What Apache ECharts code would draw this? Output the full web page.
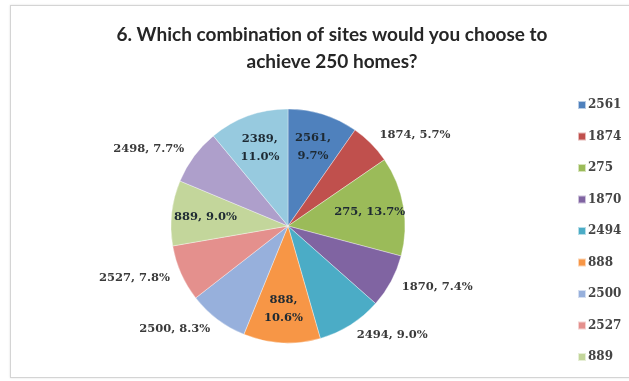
<!DOCTYPE html>
<html>
<head>
<meta charset="utf-8">
<script src="https://cdn.jsdelivr.net/npm/echarts@6/dist/echarts.min.js"></script>
<style>
  html, body { margin: 0; padding: 0; background: #ffffff; }
  #wrap { position: relative; width: 629px; height: 381px; overflow: hidden; }
  #frame {
    position: absolute; left: 10px; top: 5px; width: 660px; height: 371px;
    border: 1px solid #d4d4d4; box-shadow: 0 0 2px rgba(0,0,0,0.12);
  }
  #chart { position: absolute; left: 0; top: 0; width: 629px; height: 381px; }
</style>
</head>
<body>
<div id="wrap">
  <div id="frame"></div>
  <div id="chart"></div>
</div>
<script>
// Survey answers: share of respondents choosing each site
const sites = ['2561', '1874', '275', '1870', '2494', '888', '2500', '2527', '889', '2498', '2389'];
const shares = [9.7, 5.7, 13.7, 7.4, 9.0, 10.6, 8.3, 7.8, 9.0, 7.7, 11.0];
const sliceColors = ['#4F81BD', '#C0504D', '#9BBB59', '#8064A2', '#4BACC6', '#F79646',
                     '#97B0DC', '#E4908D', '#C3D69B', '#AE9FCB', '#97CADF'];
// Entries that fit in the legend column
const legendSites = ['2561', '1874', '275', '1870', '2494', '888', '2500', '2527', '889'];
// Labels drawn on the slice itself; the rest sit just outside the rim
const insideSites = ['2561', '275', '888', '889', '2389'];
// Inside labels broken onto two lines
const wrappedSites = ['2561', '888', '2389'];

const titleText = '6. Which combination of sites would you choose to\nachieve 250 homes?';

const labelFont = {
  fontFamily: 'DejaVu Serif',
  fontWeight: 'bold',
  fontSize: 11.5,
  color: '#3a3a3a'
};

function labelText(name, value) {
  const sep = wrappedSites.includes(name) ? ',\n' : ', ';
  return name + sep + value.toFixed(1) + '%';
}

// Main pie: slices plus the outside labels
const pieData = sites.map((name, i) => {
  const inside = insideSites.includes(name);
  return {
    name: name,
    value: shares[i],
    itemStyle: { color: sliceColors[i] },
    label: inside ? { show: false } : {
      show: true,
      position: 'outside',
      formatter: labelText(name, shares[i]),
      ...labelFont
    },
    labelLine: { show: false, length: 12, length2: 0 }
  };
});

// Transparent ring that carries the on-slice labels further out from the centre
const ringData = sites.map((name, i) => {
  const inside = insideSites.includes(name);
  return {
    name: name,
    value: shares[i],
    label: inside ? {
      show: true,
      position: 'inside',
      formatter: labelText(name, shares[i]),
      ...labelFont,
      color: '#1e2a33',
      lineHeight: 18
    } : { show: false },
    labelLine: { show: false }
  };
});

const chart = echarts.init(document.getElementById('chart'), null, { renderer: 'canvas' });
chart.setOption({
  animation: false,
  backgroundColor: 'transparent',
  title: {
    text: titleText,
    left: 327,
    top: 16,
    textAlign: 'center',
    textStyle: {
      fontFamily: 'Lato',
      fontWeight: 'bold',
      fontSize: 19,
      lineHeight: 27,
      color: '#262626'
    }
  },
  legend: {
    orient: 'vertical',
    left: 572,
    top: 94,
    data: legendSites,
    icon: 'rect',
    itemWidth: 8,
    itemHeight: 8,
    itemGap: 19.5,
    textStyle: {
      fontFamily: 'DejaVu Serif',
      fontWeight: 'bold',
      fontSize: 12,
      lineHeight: 12,
      color: '#444444',
      padding: [0, 0, 0, -3]
    }
  },
  series: [
    {
      type: 'pie',
      center: [288, 226],
      radius: [0, 117],
      startAngle: 90,
      clockwise: true,
      avoidLabelOverlap: false,
      label: { distanceToLabelLine: 0 },
      itemStyle: { borderColor: 'rgba(255,255,255,0.6)', borderWidth: 0.6 },
      emphasis: { disabled: true },
      data: pieData
    },
    {
      type: 'pie',
      center: [288, 226],
      radius: [43, 117],
      startAngle: 90,
      clockwise: true,
      silent: true,
      avoidLabelOverlap: false,
      itemStyle: { color: 'rgba(0,0,0,0)' },
      emphasis: { disabled: true },
      data: ringData
    }
  ]
});
</script>
</body>
</html>
